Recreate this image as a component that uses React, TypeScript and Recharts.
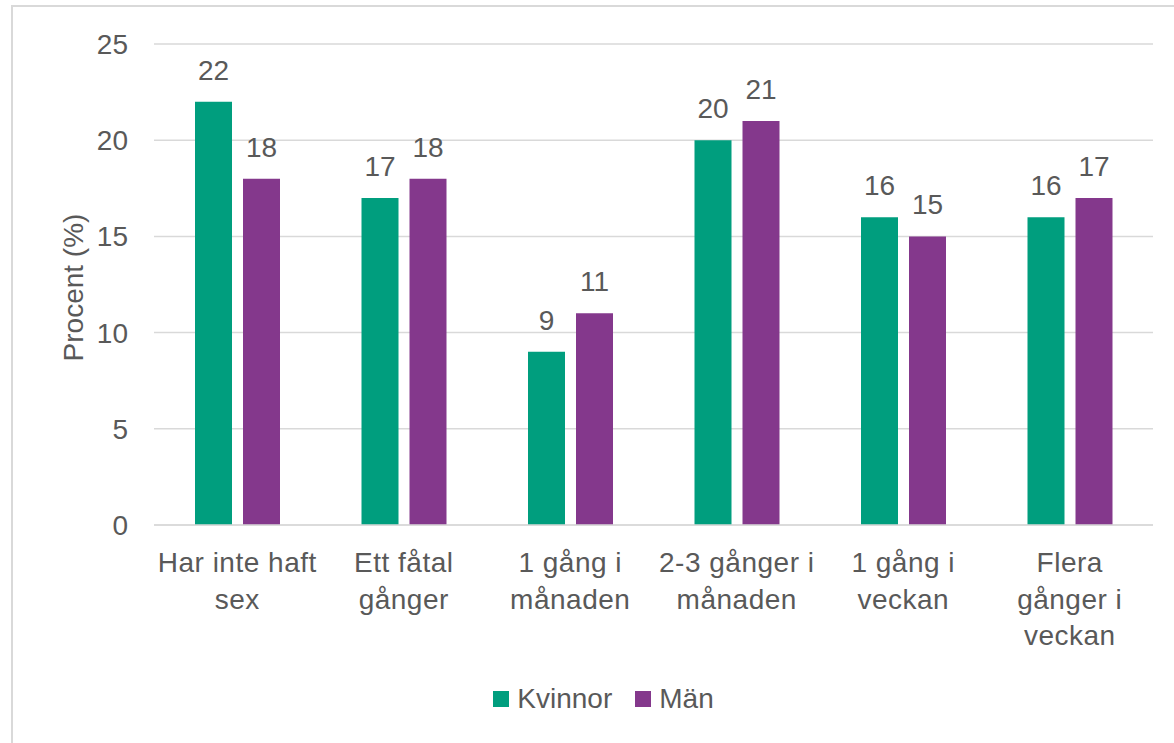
import React from "react";
import { BarChart, Bar, XAxis, YAxis, CartesianGrid, Legend, LabelList } from "recharts";

const categories = [
  "Har inte haft\nsex",
  "Ett fåtal\ngånger",
  "1 gång i\nmånaden",
  "2-3 gånger i\nmånaden",
  "1 gång i\nveckan",
  "Flera\ngånger i\nveckan",
];
const kvinnor = [22, 17, 9, 20, 16, 16];
const man = [18, 18, 11, 21, 15, 17];
const yTicks = [0, 5, 10, 15, 20, 25];

const GREEN = "#009E7E";
const PURPLE = "#84388C";
const TEXT = "#595959";
const FONT = "'Liberation Sans', Arial, sans-serif";

const data = categories.map((c, i) => ({ cat: c, Kvinnor: kvinnor[i], Män: man[i] }));

function CategoryTick(props: any) {
  const { x, y, payload } = props;
  const lines = String(payload.value).split("\n");
  return (
    <text
      x={x}
      y={y + 47}
      textAnchor="middle"
      fill={TEXT}
      fontSize={28}
      fontFamily={FONT}
      style={{ letterSpacing: 0.5 }}
    >
      {lines.map((l, i) => (
        <tspan key={i} x={x} dy={i === 0 ? 0 : 36.5}>
          {l}
        </tspan>
      ))}
    </text>
  );
}

function LegendContent(props: any) {
  const items = props.payload || [];
  return (
    <div style={{ display: "flex", justifyContent: "center", alignItems: "center", fontFamily: FONT, fontSize: 28, color: TEXT }}>
      {items.map((it: any, i: number) => (
        <div key={i} style={{ display: "flex", alignItems: "center", marginLeft: i === 0 ? 0 : 23 }}>
          <span style={{ display: "inline-block", width: 16, height: 16, background: it.color, marginRight: 8 }} />
          <span>{it.value}</span>
        </div>
      ))}
    </div>
  );
}

export default function App() {
  return (
    <div style={{ position: "absolute", left: 0, top: 0, width: 1174, height: 743, overflow: "hidden", background: "#fff" }}>
      {/* outer chart frame, cut off on the right and bottom like the original */}
      <div
        style={{
          position: "absolute",
          left: 11,
          top: 5,
          width: 1300,
          height: 900,
          border: "2px solid #d9d9d9",
        }}
      />
      <div style={{ position: "absolute", left: 0, top: 0 }}>
        <BarChart
          width={1174}
          height={743}
          data={data}
          margin={{ top: 44, right: 21, left: 54, bottom: 38 }}
          barCategoryGap={41}
          barGap={11}
        >
          <CartesianGrid vertical={false} stroke="#d9d9d9" strokeWidth={1.5} />
          <XAxis
            dataKey="cat"
            height={140}
            interval={0}
            tickLine={false}
            tickSize={0}
            tickMargin={0}
            axisLine={{ stroke: "#d9d9d9", strokeWidth: 1.5 }}
            tick={<CategoryTick />}
          />
          <YAxis
            width={100}
            domain={[0, 25]}
            ticks={yTicks}
            axisLine={false}
            tickLine={false}
            tickSize={0}
            tickMargin={26}
            tick={{ fill: TEXT, fontSize: 28, fontFamily: FONT }}
            label={{
              value: "Procent (%)",
              angle: -90,
              position: "insideLeft",
              offset: 19,
              dy: 3,
              style: { textAnchor: "middle", fill: TEXT, fontSize: 28, fontFamily: FONT },
            }}
          />
          <Legend
            verticalAlign="bottom"
            wrapperStyle={{ height: 40, bottom: 20 }}
            content={<LegendContent />}
          />
          <Bar dataKey="Kvinnor" fill={GREEN} isAnimationActive={false}>
            <LabelList dataKey="Kvinnor" position="top" offset={22} fill={TEXT} fontSize={28} fontFamily={FONT} />
          </Bar>
          <Bar dataKey="Män" fill={PURPLE} isAnimationActive={false}>
            <LabelList dataKey="Män" position="top" offset={22} fill={TEXT} fontSize={28} fontFamily={FONT} />
          </Bar>
        </BarChart>
      </div>
    </div>
  );
}
